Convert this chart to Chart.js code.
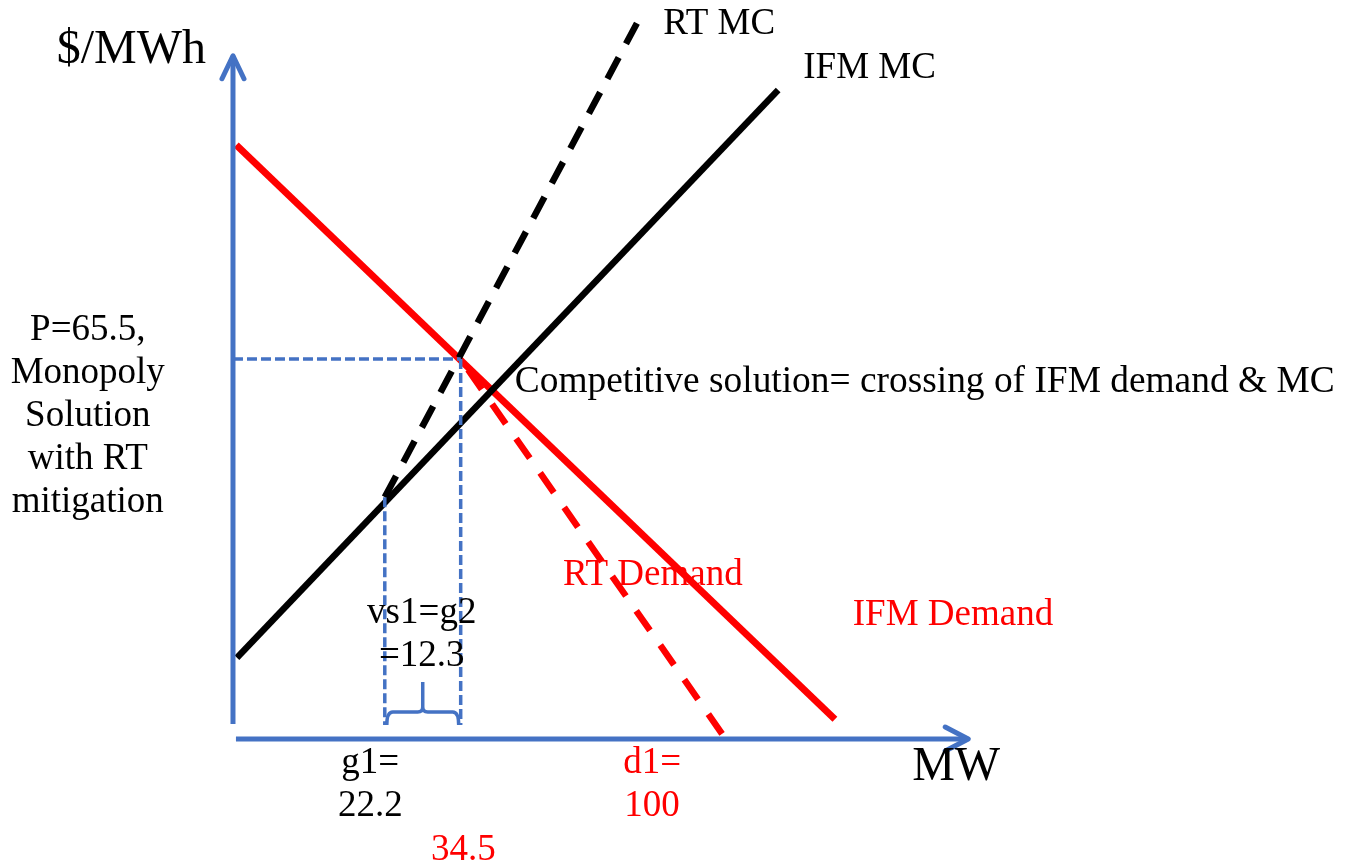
<!DOCTYPE html>
<html lang="en">
<head>
    <meta charset="UTF-8">
    <title>Monopoly solution with RT mitigation</title>
    <script src="https://cdn.jsdelivr.net/npm/chart.js"></script>
    <style>
        html, body { margin: 0; padding: 0; background: #fff; }
        #wrap { width: 1349px; height: 865px; }
    </style>
</head>
<body>
    <div id="wrap"><canvas id="diagram" width="1349" height="865"></canvas></div>

    <script>
        // curves (MW on x, $/MWh on y)
        const ifmDemand = [{x: 0.5, y: 102.4}, {x: 91.2, y: 3.4}];
        const rtDemand  = [{x: 74.1, y: 0.9}, {x: 34.5, y: 65.5}];
        const ifmMC     = [{x: 0.6, y: 14.0}, {x: 82.6, y: 111.9}];
        const rtMC      = [{x: 23.0, y: 41.7}, {x: 61.2, y: 123.4}];

        // solution markers
        const price = 65.5;
        const g1 = 23.0;
        const q2 = 34.5;
        const floorY = 2.4;

        // axes
        const yAxisLine = [{x: 0, y: 2.6}, {x: 0, y: 117.8}];
        const xAxisLine = [{x: 0.45, y: 0}, {x: 111.4, y: 0}];

        // text (x, y = anchor in data units, baseline of first line)
        const notes = [
            {lines: ['$/MWh'], x: -15.4, y: 116.6, align: 'center', color: '#000', size: 48},
            {lines: ['MW'], x: 102.9, y: -7.1, align: 'left', color: '#000', size: 48},
            {lines: ['RT MC'], x: 65.2, y: 121.6, align: 'left', color: '#000', size: 37},
            {lines: ['IFM MC'], x: 86.4, y: 114.0, align: 'left', color: '#000', size: 37},
            {lines: ['P=65.5,', 'Monopoly', 'Solution', 'with RT', 'mitigation'], x: -22.0, y: 68.8, align: 'center', color: '#000', size: 37},
            {lines: ['Competitive solution= crossing of IFM demand & MC'], x: 42.7, y: 59.8, align: 'left', color: '#000', size: 37.4},
            {lines: ['RT Demand'], x: 50.0, y: 26.6, align: 'left', color: '#ff0000', size: 37},
            {lines: ['IFM Demand'], x: 93.9, y: 19.7, align: 'left', color: '#ff0000', size: 37},
            {lines: ['vs1=g2', '=12.3'], x: 28.6, y: 20.0, align: 'center', color: '#000', size: 37},
            {lines: ['g1=', '22.2'], x: 20.8, y: -5.9, align: 'center', color: '#000', size: 37},
            {lines: ['d1=', '100'], x: 63.5, y: -5.9, align: 'center', color: '#ff0000', size: 37},
            {lines: ['34.5'], x: 34.9, y: -20.9, align: 'center', color: '#ff0000', size: 37}
        ];

        const BLUE = '#4472c4';
        const LINE_H = 43;

        function seg(data, color, width, dash, order) {
            return {
                data: data,
                showLine: true,
                borderColor: color,
                borderWidth: width,
                borderDash: dash || [],
                pointRadius: 0,
                borderCapStyle: 'butt',
                fill: false,
                order: order
            };
        }

        const extras = {
            id: 'extras',
            afterDatasetsDraw(chart) {
                const c = chart.ctx;
                const xs = chart.scales.x, ys = chart.scales.y;
                const px = v => xs.getPixelForValue(v);
                const py = v => ys.getPixelForValue(v);

                c.save();
                // arrow heads
                c.strokeStyle = BLUE;
                c.lineWidth = 5;
                c.lineCap = 'round';
                c.lineJoin = 'round';
                let tx = px(yAxisLine[1].x), ty = py(yAxisLine[1].y);
                c.beginPath();
                c.moveTo(tx - 11, ty + 23); c.lineTo(tx, ty); c.lineTo(tx + 11, ty + 23);
                c.stroke();
                tx = px(xAxisLine[1].x); ty = py(xAxisLine[1].y);
                c.beginPath();
                c.moveTo(tx - 23, ty - 12); c.lineTo(tx, ty); c.lineTo(tx - 23, ty + 12);
                c.stroke();

                // brace between g1 and q2
                const xl = px(g1) + 2, xr = px(q2) - 2, xm = (xl + xr) / 2;
                const yb = py(floorY), yh = yb - 13, yt = yb - 43;
                c.lineWidth = 3.5;
                c.lineCap = 'butt';
                c.beginPath();
                c.moveTo(xl, yb);
                c.quadraticCurveTo(xl, yh, xl + 6, yh);
                c.lineTo(xm - 5, yh);
                c.quadraticCurveTo(xm, yh, xm, yh - 5);
                c.lineTo(xm, yt);
                c.moveTo(xm, yh - 5);
                c.quadraticCurveTo(xm, yh, xm + 5, yh);
                c.lineTo(xr - 6, yh);
                c.quadraticCurveTo(xr, yh, xr, yb);
                c.stroke();

                // text
                c.textBaseline = 'alphabetic';
                notes.forEach(n => {
                    c.font = n.size + 'px "Liberation Serif", "Times New Roman", serif';
                    c.fillStyle = n.color;
                    c.textAlign = n.align;
                    n.lines.forEach((t, i) => c.fillText(t, px(n.x), py(n.y) + i * LINE_H));
                });
                c.restore();
            }
        };

        new Chart(document.getElementById('diagram'), {
            type: 'scatter',
            data: {
                datasets: [
                    seg(yAxisLine, BLUE, 5, null, 1),
                    seg(xAxisLine, BLUE, 5, null, 1),
                    seg([{x: 0, y: price}, {x: q2, y: price}], BLUE, 3.5, [10, 4], 2),
                    seg([{x: q2, y: price}, {x: q2, y: floorY}], BLUE, 3.5, [10, 4], 2),
                    seg([rtMC[0], {x: g1, y: floorY}], BLUE, 3.5, [10, 4], 2),
                    seg(ifmMC, '#000', 6.5, null, 3),
                    seg(rtMC, '#000', 6.5, [24, 15.5], 3),
                    seg(ifmDemand, '#ff0000', 7, null, 4),
                    seg(rtDemand, '#ff0000', 6.5, [24, 18], 4)
                ]
            },
            options: {
                responsive: false,
                animation: false,
                layout: { padding: 0 },
                plugins: { legend: { display: false }, tooltip: { enabled: false } },
                scales: {
                    x: { type: 'linear', display: false, min: -35.3, max: 169.09 },
                    y: { type: 'linear', display: false, min: -21.72, max: 127.41 }
                }
            },
            plugins: [extras]
        });
    </script>
</body>
</html>
